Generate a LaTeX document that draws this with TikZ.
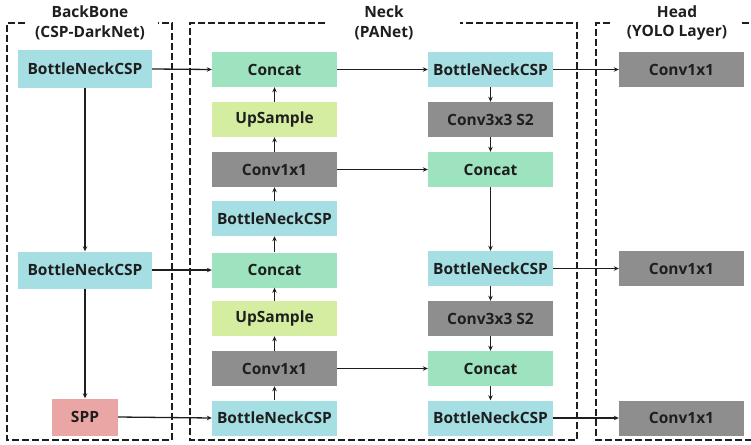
\documentclass[tikz,border=0pt]{standalone}
\usepackage{fontspec}
\setmainfont{Open Sans}
\usetikzlibrary{arrows.meta}
\definecolor{cspcol}{HTML}{A5DEE3}
\definecolor{catcol}{HTML}{9EE3BF}
\definecolor{upcol}{HTML}{D5EDA0}
\definecolor{convcol}{HTML}{8E8E8E}
\definecolor{sppcol}{HTML}{EAA5A5}
\definecolor{ink}{HTML}{1E1E1E}
\begin{document}
\begin{tikzpicture}[x=1pt,y=-1pt,
  blk/.style={minimum width=125pt, minimum height=35pt, inner sep=0pt, text=ink,
    font=\bfseries\fontsize{15.5}{18}\selectfont},
  csp/.style={blk, fill=cspcol},
  cat/.style={blk, fill=catcol},
  ups/.style={blk, fill=upcol},
  conv/.style={blk, fill=convcol},
  spp/.style={blk, fill=sppcol, minimum width=66pt, minimum height=37pt},
  title/.style={text=ink, font=\bfseries\fontsize{15.5}{18}\selectfont, align=center, inner sep=0pt},
  frame/.style={draw=ink, line width=1.4pt, dash pattern=on 7pt off 3pt},
  arr/.style={-{Stealth[length=5pt,width=4.5pt]}, line width=1.3pt, draw=ink}
]
\useasboundingbox (0,0) rectangle (751,444);

% dashed group frames, top edges leave room for the titles
\draw[frame] (25,23) -- (7,23) -- (7,440) -- (172,440) -- (172,23) -- (158,23);
\draw[frame] (325,23) -- (190,23) -- (190,440) -- (577,440) -- (577,23) -- (460,23);
\draw[frame] (610,23) -- (596,23) -- (596,440) -- (760,440);
\draw[frame] (742,23) -- (760,23);

% titles
\node[title] (tb1) at (90,12) {BackBone};
\node[title] (tb2) at (90,33) {(CSP-DarkNet)};
\node[title] (tn1) at (384,12) {Neck};
\node[title] (tn2) at (384,33) {(PANet)};
\node[title] (th1) at (677,12) {Head};
\node[title] (th2) at (677,33) {(YOLO Layer)};

% backbone
\node[csp, minimum width=134pt, minimum height=37pt] (b1) at (85,69) {BottleNeckCSP};
\node[csp, minimum width=134pt, minimum height=37pt] (b2) at (85,270) {BottleNeckCSP};
\node[spp] (spp) at (85,417) {SPP};

% neck, top-down path
\node[cat]  (c1) at (274.5,69.5)  {Concat};
\node[ups]  (u1) at (274.5,119.5) {UpSample};
\node[conv] (k1) at (274.5,169.5) {Conv1x1};
\node[csp]  (n1) at (274.5,218.5) {BottleNeckCSP};
\node[cat]  (c2) at (274.5,270)   {Concat};
\node[ups]  (u2) at (274.5,318.5) {UpSample};
\node[conv] (k2) at (274.5,368.5) {Conv1x1};
\node[csp]  (n2) at (274.5,418)   {BottleNeckCSP};

% neck, bottom-up path
\node[csp]  (p1) at (490.5,69.5)  {BottleNeckCSP};
\node[conv] (s1) at (490.5,119.5) {Conv3x3 S2};
\node[cat]  (d1) at (490.5,169.5) {Concat};
\node[csp]  (p2) at (490.5,268.5) {BottleNeckCSP};
\node[conv] (s2) at (490.5,318.5) {Conv3x3 S2};
\node[cat]  (d2) at (490.5,368.5) {Concat};
\node[csp]  (p3) at (490.5,418)   {BottleNeckCSP};

% head
\node[conv] (h1) at (681.5,69.5)  {Conv1x1};
\node[conv] (h2) at (681.5,268.5) {Conv1x1};
\node[conv] (h3) at (681.5,418)   {Conv1x1};

% backbone links
\draw[arr] (b1) -- (b2);
\draw[arr] (b2) -- (spp);
\draw[arr] (b1.east) -- (c1.west);
\draw[arr] (b2.east) -- (c2.west);
\draw[arr] (spp.east) -- (n2.west);

% top-down chain
\draw[arr] (n2) -- (k2);
\draw[arr] (k2) -- (u2);
\draw[arr] (u2) -- (c2);
\draw[arr] (c2) -- (n1);
\draw[arr] (n1) -- (k1);
\draw[arr] (k1) -- (u1);
\draw[arr] (u1) -- (c1);

% lateral links
\draw[arr] (c1.east) -- (p1.west);
\draw[arr] (k1.east) -- (d1.west);
\draw[arr] (k2.east) -- (d2.west);

% bottom-up chain
\draw[arr] (p1) -- (s1);
\draw[arr] (s1) -- (d1);
\draw[arr] (d1) -- (p2);
\draw[arr] (p2) -- (s2);
\draw[arr] (s2) -- (d2);
\draw[arr] (d2) -- (p3);

% outputs to head
\draw[arr] (p1.east) -- (h1.west);
\draw[arr] (p2.east) -- (h2.west);
\draw[arr] (p3.east) -- (h3.west);
\end{tikzpicture}
\end{document}
